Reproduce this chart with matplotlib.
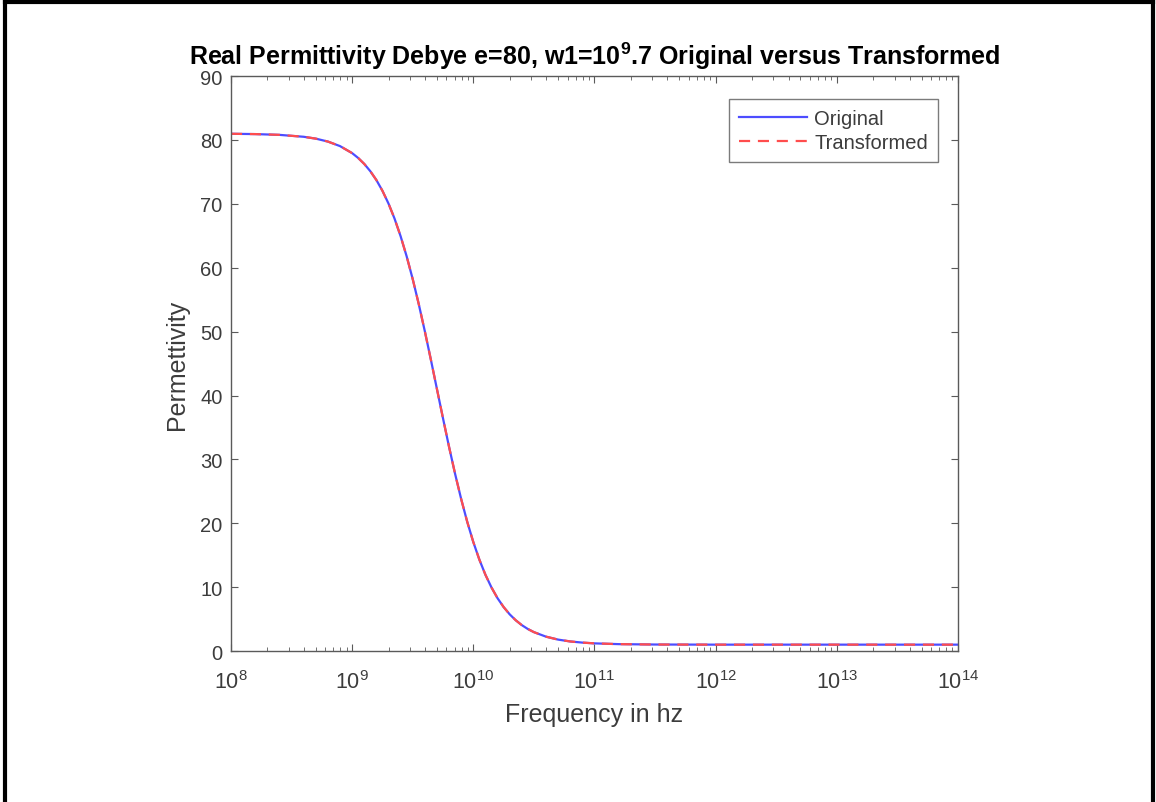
import numpy as np
import matplotlib
matplotlib.use("Agg")
import matplotlib.pyplot as plt
from matplotlib.lines import Line2D
from matplotlib.ticker import LogLocator, FixedLocator

# values (log10 of frequency, permittivity)
log_freq = [8.0, 8.2, 8.4, 8.6, 8.7, 8.8, 8.9, 9.0, 9.05, 9.1, 9.15, 9.2, 9.25,
            9.3, 9.35, 9.4, 9.45, 9.5, 9.55, 9.6, 9.65, 9.7, 9.75, 9.8, 9.85,
            9.9, 9.95, 10.0, 10.05, 10.1, 10.15, 10.2, 10.25, 10.3, 10.35, 10.4,
            10.45, 10.5, 10.6, 10.7, 10.8, 10.9, 11.0, 11.2, 11.5, 12.0, 13.0, 14.0]
eps_original = [80.97, 80.92, 80.80, 80.50, 80.21, 79.75, 79.04, 77.94, 77.18, 76.25,
                75.11, 73.73, 72.05, 70.05, 67.69, 64.94, 61.78, 58.22, 54.29, 50.05,
                45.59, 41.0, 36.42, 31.95, 27.71, 23.78, 20.22, 17.06, 14.31, 11.94,
                9.95, 8.27, 6.89, 5.75, 4.82, 4.06, 3.45, 2.96, 2.25, 1.79, 1.50,
                1.32, 1.20, 1.08, 1.02, 1.0, 1.0, 1.0]
eps_transformed = list(eps_original)

freq = [10 ** v for v in log_freq]

plt.rcParams['font.family'] = ['Liberation Sans', 'DejaVu Sans']
plt.rcParams['mathtext.fontset'] = 'custom'
plt.rcParams['mathtext.rm'] = 'Liberation Sans'
plt.rcParams['mathtext.it'] = 'Liberation Sans'
plt.rcParams['mathtext.bf'] = 'Liberation Sans:bold'
txt = '#3c3c3c'
spine = '#5a5a5a'

fig = plt.figure(figsize=(11.56, 8.03), dpi=100)
ax = fig.add_axes([0.1998, 0.188, 0.6289, 0.716])

ax.plot(freq, eps_original, color='#4d4dff', lw=1.6, label='Original')
ax.plot(freq, eps_transformed, color='#ff4d4d', lw=1.6, ls=(0, (5, 3.5)), label='Transformed')

ax.set_xscale('log')
ax.set_xlim(1e8, 1e14)
ax.set_ylim(0, 90)
ax.set_yticks(np.arange(0, 91, 10))
ax.xaxis.set_major_locator(FixedLocator([10.0 ** k for k in range(8, 15)]))
ax.xaxis.set_minor_locator(LogLocator(base=10, subs=np.arange(2, 10), numticks=20))
ax.set_xticklabels(['$\\mathrm{10^{%d}}$' % k for k in range(8, 15)])

ax.tick_params(which='both', direction='in', top=True, right=True, colors=spine,
               labelcolor=txt, labelsize=14.5)
ax.tick_params(which='major', length=5, width=0.8)
ax.tick_params(which='minor', length=3, width=0.6)
ax.tick_params(axis='y', pad=6)
ax.tick_params(axis='x', pad=14, labelsize=15.5)
for s in ax.spines.values():
    s.set_color(spine)
    s.set_linewidth(1.0)

ax.set_xlabel('Frequency in hz', fontsize=18, color=txt, labelpad=6)
ax.set_ylabel('Permettivity', fontsize=18, color=txt, labelpad=8)
ax.set_title('Real Permittivity Debye e=80, w1=10$^{\\mathbf{9}}$.7 Original versus Transformed',
             fontsize=18, fontweight='bold', color='black', pad=9)

leg = ax.legend(loc='upper right', bbox_to_anchor=(0.9725, 0.96), borderaxespad=0,
                fontsize=14.5, frameon=True, fancybox=False, handlelength=3.4,
                labelspacing=0.25, borderpad=0.5, handletextpad=0.35)
leg.get_frame().set_edgecolor(spine)
leg.get_frame().set_linewidth(1.0)
for t in leg.get_texts():
    t.set_color(txt)

# black frame around the image (no bottom edge in the reference)
for xs, ys in [([0.004, 0.004], [0.0, 0.996]), ([0.004, 0.997], [0.996, 0.996]),
               ([0.997, 0.997], [0.0, 0.996])]:
    fig.add_artist(Line2D(xs, ys, color='black', lw=3, transform=fig.transFigure))

fig.savefig('out.png', dpi=100)
